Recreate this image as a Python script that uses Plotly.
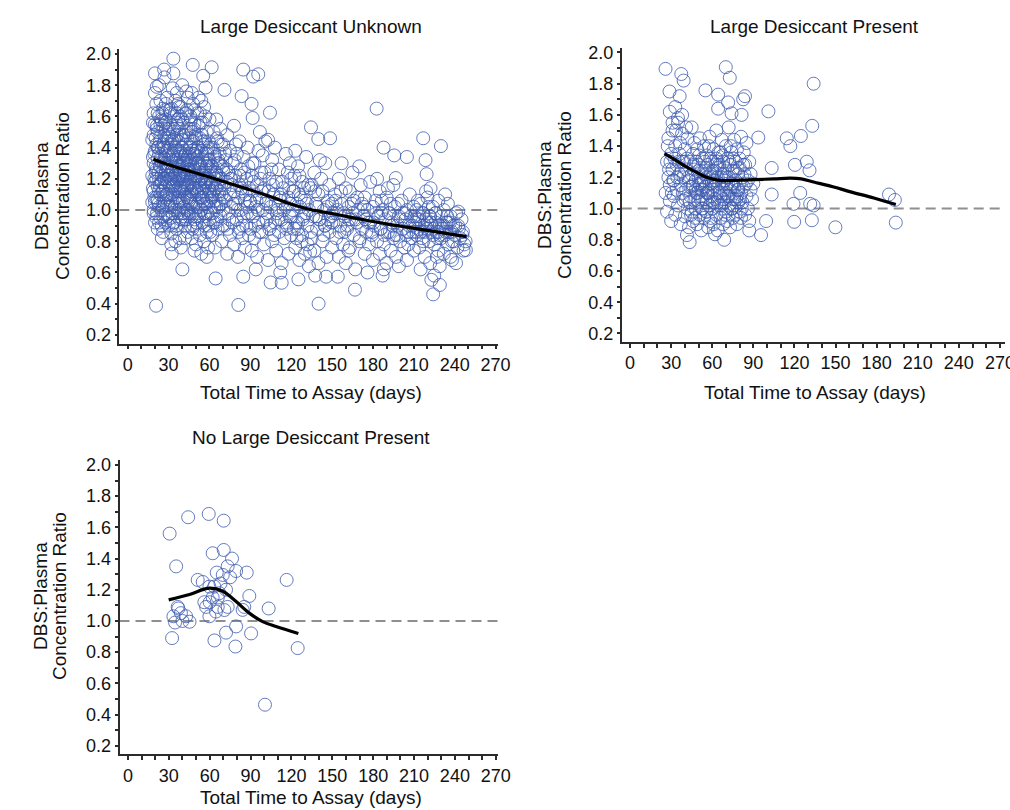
import plotly.graph_objects as go

# ---------------- Panel 1: Large Desiccant Unknown ----------------
unknown_days = [
    # 18-30 days
    18,18,18,19,19,19,19,20,20,20, 20,21,21,21,21,22,22,22,22,23, 23,23,23,24,24,24,24,24,25,25,
    25,25,26,26,26,26,27,27,27,27, 28,28,28,28,29,29,29,29,30,30, 30,30,20,23,27,25,21,28,26,22,
    # 31-45 days
    31,31,31,31,32,32,32,32,33,33, 33,33,34,34,34,34,35,35,35,35, 36,36,36,36,37,37,37,37,38,38,
    38,38,39,39,39,39,40,40,40,40, 41,41,41,41,42,42,42,42,43,43, 43,43,44,44,44,44,45,45,45,45,
    33,36,40,43,32,35,39,42,34,37, 41,44,31,38,36,40,45,33,39,42,
    # 46-60 days
    46,46,46,46,47,47,47,47,48,48, 48,48,49,49,49,49,50,50,50,50, 51,51,51,51,52,52,52,52,53,53,
    53,53,54,54,54,54,55,55,55,55, 56,56,56,56,57,57,57,57,58,58, 58,58,59,59,59,59,60,60,60,60,
    47,52,56,49,54,58,50,55,46,53,
    # 61-89 days
    61,61,61,62,62,62,63,63,63,64, 64,64,65,65,65,66,66,66,67,67, 68,68,68,69,69,70,70,70,71,71,
    72,72,73,73,73,74,74,75,75,75, 76,76,77,77,78,78,78,79,79,80, 80,81,81,82,82,82,83,83,84,84,
    85,85,86,86,87,87,88,88,89,89,
    # 90-120 days
    90,90,91,91,92,92,93,93,94,95, 95,96,96,97,98,98,99,100,100,101, 102,102,103,104,104,105,106,106,107,108,
    109,109,110,111,111,112,113,113,114,115, 116,116,117,118,118,119,120,120,97,103, 108,94,112,119,99,
    # 121-150 days
    121,122,122,123,124,125,125,126,127,128, 128,129,130,130,131,132,133,133,134,135,
    136,137,137,138,139,140,140,141,142,143, 144,145,145,146,147,148,148,149,150,150,
    126,131,135,139,143,147,124,132,141,123,
    # 151-180 days
    151,152,153,154,155,155,156,157,158,159, 160,160,161,162,163,164,165,166,166,167,
    168,169,170,171,172,173,174,174,175,176, 177,178,178,179,180,180,157,163,170,176,
    153,159,165,172,162,
    # 181-210 days
    181,182,183,184,185,185,186,187,188,189, 190,190,191,192,193,194,195,196,196,197,
    198,199,200,201,202,203,204,205,205,206, 207,208,208,209,210,210,183,188,193,199,
    186,191,202,206,195,
    # 211-250 days
    211,212,212,213,214,214,215,216,216,217, 218,218,219,220,220,221,222,222,223,224,
    224,225,226,226,227,228,228,229,230,230, 231,232,232,233,234,235,235,236,237,238,
    238,239,240,241,242,243,244,245,246,247, 215,219,225,229,233,237,241,213,221,227,
    # dense core 19-66 days
    24,25,26,27,28,29,30,31,32,33, 34,35,36,37,38,39,40,41,42,43, 44,45,46,47,48,49,50,51,52,53,
    54,55,56,57,58,59,60,62,64,66, 26,29,32,35,38,41,44,47,50,53, 56,59,28,31,34,37,40,43,46,49,
    22,23,24,25,21,20,19,23,26,28,
    # more 18-30 days
    18.5,19.5,20.5,21.5,22.5,23.5,24.5,25.5,26.5,27.5, 28.5,29.5,18.5,19.5,20.5,21.5,22.5,23.5,24.5,25.5,
    26.5,27.5,28.5,29.5,18.5,20.5,22.5,24.5,26.5,28.5, 19.5,21.5,23.5,25.5,27.5,29.5,19,22,25,28,
    # more 30-50 days
    30.5,31.5,32.5,33.5,34.5,35.5,36.5,37.5,38.5,39.5, 40.5,41.5,42.5,43.5,44.5,45.5,46.5,47.5,48.5,49.5,
    30.5,31.5,32.5,33.5,34.5,35.5,36.5,37.5,38.5,39.5, 40.5,41.5,42.5,43.5,44.5,45.5,46.5,47.5,48.5,49.5,
    30.5,31.5,32.5,33.5,34.5,35.5,36.5,37.5,38.5,39.5, 40.5,41.5,42.5,43.5,44.5,45.5,46.5,47.5,48.5,49.5,
    31,33,35,37,39,41,43,45,47,49,
    # more 50-70 days
    50.5,51.5,52.5,53.5,54.5,55.5,56.5,57.5,58.5,59.5, 60.5,61.5,62.5,63.5,64.5,65.5,66.5,67.5,68.5,69.5,
    50.5,51.5,52.5,53.5,54.5,55.5,56.5,57.5,58.5,59.5, 60.5,61.5,62.5,63.5,64.5,65.5,66.5,67.5,68.5,69.5,
    50.5,52.5,54.5,56.5,58.5,60.5,62.5,64.5,66.5,68.5, 51,53,55,57,59,61,63,65,67,69,
    # more 70-130 days
    70.5,72.5,74.5,76.5,78.5,80.5,82.5,84.5,86.5,88.5, 90.5,92.5,94.5,96.5,98.5,100.5,102.5,104.5,106.5,108.5,
    110.5,112.5,114.5,116.5,118.5,120.5,122.5,124.5,126.5,128.5, 71.5,73.5,75.5,77.5,79.5,81.5,83.5,85.5,87.5,89.5,
    91.5,93.5,95.5,97.5,99.5,101.5,103.5,105.5,107.5,109.5, 111.5,113.5,115.5,117.5,119.5,121.5,123.5,125.5,127.5,129.5,
    # more 130-248 days
    131.5,134.5,137.5,140.5,143.5,146.5,149.5,152.5,155.5,158.5, 161.5,164.5,167.5,170.5,173.5,176.5,179.5,182.5,185.5,188.5,
    191.5,194.5,197.5,200.5,203.5,206.5,209.5,212.5,215.5,218.5, 221.5,224.5,227.5,230.5,233.5,236.5,239.5,242.5,245.5,248,
    132.5,138.5,144.5,150.5,156.5,162.5,168.5,174.5,180.5,186.5, 192.5,198.5,204.5,210.5,216.5,222.5,228.5,234.5,240.5,246.5,
    212,214,217,220,223,226,229,232,235,238,
    # outliers
    33.5,47.7,61.6,20,33.5,21.3,26.7,84.8,92.1,95.8, 55.4,57.1,71,83.6,90.9,91.7,104.4,182.7,134.5,139.9,
    148.5,216.9,229.9,187.8,195.6,204.9,218.6,219.4,222.3,196.8, 32.3,40.1,64.5,84.8,104.9,113,125.3,133.9,137.6,145.6,
    154.2,166.8,187.1,224.2,229.1,222.9,248.2,242.6,20.8,81.2, 140.1,
]
unknown_ratio = [
    1.22,1.05,1.45,1.30,0.98,1.62,1.12,1.38,1.18,0.92, 1.55,1.26,1.08,1.68,1.42,1.15,1.33,0.88,1.50,1.20,
    1.02,1.60,1.36,1.28,1.10,1.47,0.95,1.70,1.18,1.40, 1.00,1.57,1.25,1.12,1.65,0.86,1.33,1.06,1.48,1.20,
    1.38,0.97,1.58,1.15,1.27,1.44,1.03,1.72,1.22,0.90, 1.52,1.35,1.75,1.80,1.85,0.82,0.95,1.25,1.42,1.62,
    1.10,1.30,0.95,1.55,1.20,1.42,0.85,1.65,1.15,1.05, 1.35,1.50,1.25,0.92,1.60,1.12,1.40,1.00,1.22,1.70,
    1.32,0.88,1.18,1.48,1.08,1.28,1.58,0.98,1.38,1.15, 0.82,1.52,1.24,1.05,1.66,1.34,1.12,1.45,0.94,1.28,
    1.02,1.38,1.56,1.18,1.30,0.90,1.10,1.62,1.22,1.42, 1.00,1.50,1.15,0.86,1.34,1.72,1.26,1.06,1.46,0.96,
    1.78,1.75,1.80,1.76,0.78,0.80,0.76,0.82,1.45,1.20, 1.25,1.08,1.40,1.00,1.62,1.20,1.36,0.98,1.48,1.35,
    1.20,1.40,0.90,1.60,1.10,1.32,0.82,1.50,1.25,1.02, 1.44,1.68,1.14,0.94,1.36,1.55,1.22,1.05,0.78,1.48,
    1.30,1.12,0.88,1.62,1.18,1.40,0.98,1.54,1.08,1.28, 0.84,1.46,1.20,1.00,1.38,1.70,1.14,0.92,1.32,1.56,
    1.24,1.04,0.80,1.44,1.16,1.36,0.96,1.60,1.10,1.28, 0.86,1.50,1.20,1.02,1.40,0.76,1.12,1.32,0.94,1.58,
    1.75,1.72,1.66,0.74,0.72,0.70,1.35,1.08,1.05,1.62,
    1.18,0.98,1.40,1.08,1.28,0.84,1.22,1.50,0.92,1.14, 1.34,0.76,1.02,1.24,1.58,1.16,0.88,1.44,1.06,1.30,
    0.96,1.20,1.52,1.10,0.80,1.26,1.00,1.42,1.14,0.90, 1.32,1.06,0.72,1.18,1.48,0.98,1.24,1.10,0.84,1.38,
    1.02,1.20,0.92,1.30,1.12,0.78,1.54,1.04,1.22,0.94, 1.36,1.08,0.70,1.16,0.88,1.44,1.00,1.26,0.82,1.12,
    0.96,1.34,1.06,0.76,1.20,0.90,1.02,1.40,1.14,0.84,
    1.05,0.88,1.22,0.74,1.12,0.96,1.30,0.82,1.02,1.16, 0.70,0.92,1.38,1.08,0.86,1.24,1.00,0.78,1.14,1.44,
    0.94,1.06,0.68,1.20,0.88,1.02,0.80,1.32,1.10,0.92, 0.74,1.18,1.00,0.86,1.26,1.06,0.66,0.94,1.14,0.82,
    1.02,1.36,0.90,1.08,0.72,0.96,1.20,0.84,1.50,1.45, 1.40,0.62,0.60,1.30,1.35,
    1.00,0.88,1.12,0.76,1.04,0.92,1.28,0.68,1.08,0.84, 1.18,0.96,0.72,1.06,1.34,0.90,1.00,0.64,1.14,0.82,
    0.96,1.24,0.74,1.04,0.88,1.10,0.66,0.94,1.20,0.80, 1.00,0.90,1.30,0.70,1.06,0.86,1.16,0.96,0.76,1.04,
    1.22,0.98,1.16,1.02,1.12,0.94,0.82,0.78,1.32,1.38,
    0.92,1.10,0.82,1.00,0.70,1.20,0.90,1.04,0.78,0.96, 1.14,0.66,0.88,1.02,0.76,0.94,1.24,0.84,1.06,0.62,
    0.92,1.00,0.80,1.16,0.88,0.96,0.72,1.08,0.86,1.00, 0.78,1.18,0.92,0.84,1.02,0.68,1.30,1.12,1.28,0.60,
    0.98,0.86,0.98,1.04,0.74,
    0.90,1.06,0.80,0.96,0.72,1.12,0.88,1.00,0.78,0.94, 1.08,0.66,0.86,0.98,0.74,0.92,1.16,0.84,1.02,0.70,
    0.90,0.96,0.80,1.06,0.88,0.76,0.94,1.00,0.68,0.86, 1.10,0.82,0.96,0.90,0.74,1.02,1.20,0.62,1.04,0.64,
    0.98,1.14,0.98,0.78,0.82,
    0.92,0.84,1.00,0.88,0.96,0.76,1.04,0.90,0.82,0.98, 0.86,0.70,0.94,1.08,0.88,0.80,0.96,0.66,0.90,1.02,
    0.84,0.78,0.92,0.98,0.86,0.74,1.06,0.90,0.82,0.96, 0.88,0.72,1.00,0.84,0.92,0.78,1.04,0.86,0.96,0.80,
    0.68,0.90,0.84,0.98,0.76,0.88,0.82,0.94,0.86,0.78, 0.62,1.12,0.58,0.64,1.10,0.70,0.66,1.06,1.02,0.70,
    1.32,1.22,1.05,1.40,1.30,1.18,1.46,1.20,1.32,1.24, 1.38,1.14,1.26,1.44,1.28,1.12,1.36,1.48,1.20,1.32,
    1.24,1.16,1.30,1.22,1.36,1.26,1.14,1.40,1.30,1.20, 1.28,1.44,1.12,1.26,1.38,1.30,1.22,1.16,1.24,1.30,
    0.96,1.10,1.02,1.08,1.06,0.98,1.00,0.98,0.96,1.02, 0.98,0.90,1.52,1.64,1.52,1.68,1.58,1.62,1.52,1.64,
    1.40,1.12,1.55,1.30,1.20,1.05,1.48,0.92,1.54,1.08,
    1.14,1.36,1.24,1.52,1.04,1.44,1.18,1.62,1.30,0.92, 1.46,1.22,1.34,1.08,1.28,0.98,1.40,1.16,1.58,1.02,
    1.20,1.64,1.10,0.96,1.56,1.46,1.24,1.34,1.40,1.28, 1.20,1.54,1.28,1.12,1.56,1.38,1.00,1.06,0.90,1.68,
    1.28,1.06,1.44,1.16,1.02,1.30,1.54,1.12,0.94,1.40, 1.22,0.96,1.36,1.08,1.52,1.18,1.04,1.38,1.14,1.46,
    1.48,1.62,0.90,1.36,1.46,1.56,1.04,1.34,1.22,1.16, 1.32,1.14,1.48,1.64,1.26,1.40,1.58,1.16,0.90,1.30,
    1.02,1.20,1.26,0.92,1.20,0.90,1.38,1.66,1.60,0.98, 1.06,1.24,0.94,1.16,0.98,1.08,1.26,0.88,1.52,1.04,
    1.16,1.10,1.32,1.22,1.14,1.30,1.14,1.32,1.12,1.20,
    1.10,1.34,0.96,1.24,1.48,1.06,1.30,1.18,0.98,1.44, 1.06,1.28,1.40,1.02,1.20,0.94,1.32,1.12,1.42,0.90,
    1.38,1.02,1.26,1.56,1.12,1.42,1.18,1.04,1.36,1.14, 1.26,1.08,0.98,1.36,1.06,1.46,1.22,1.36,1.04,1.28,
    0.92,1.14,1.08,0.90,1.20,0.86,1.18,0.92,1.02,1.16, 1.22,1.16,1.22,1.20,1.32,1.10,1.12,1.14,1.10,1.20,
    1.08,1.26,0.94,1.16,1.32,1.00,1.22,0.90,1.10,1.28, 0.98,1.18,1.06,0.86,1.12,1.24,0.98,0.90,1.16,1.04,
    0.94,1.10,1.00,0.88,1.14,0.96,1.22,0.88,1.02,0.94, 1.36,0.88,1.20,1.04,1.42,0.86,1.14,1.24,0.98,1.06,
    1.30,0.90,1.00,1.20,0.92,1.04,1.12,1.26,0.84,0.98, 1.08,1.18,0.92,1.24,1.04,1.12,0.92,1.10,0.80,1.14,
    1.04,0.86,1.12,0.94,0.84,1.02,0.92,1.06,0.86,0.98, 0.90,1.04,0.94,0.82,1.02,0.92,0.86,0.98,0.88,0.84,
    0.98,0.90,0.84,0.94,0.98,0.90,0.86,0.94,0.86,0.90, 0.96,0.88,0.82,0.90,0.86,0.92,0.80,0.90,0.84,0.80,
    1.16,0.96,0.90,0.98,1.12,0.94,1.08,0.94,0.92,1.06, 0.86,1.04,0.84,0.96,0.98,0.92,0.86,0.96,0.90,0.74,
    0.86,0.94,0.80,0.92,0.86,0.98,0.84,0.90,0.92,0.86,
    1.97,1.93,1.915,1.876,1.876,1.79,1.90,1.90,1.855,1.87, 1.86,1.785,1.77,1.73,1.68,1.59,1.624,1.65,1.53,1.455,
    1.46,1.46,1.41,1.40,1.35,1.34,1.32,1.23,1.14,1.205, 0.722,0.62,0.562,0.573,0.536,0.534,0.556,0.733,0.58,0.573,
    0.573,0.49,0.58,0.46,0.52,0.553,0.744,0.99,0.387,0.392, 0.40,
]
unknown_fit_days = [18.8, 30, 45, 60.4, 75, 89.7, 105, 119, 133, 148.4, 163, 177.8, 192, 207.1, 229, 248.7]
unknown_fit_ratio = [1.325, 1.29, 1.25, 1.21, 1.17, 1.13, 1.085, 1.04, 1.005, 0.98, 0.955, 0.93, 0.908, 0.887, 0.857, 0.83]

# ---------------- Panel 2: Large Desiccant Present ----------------
present_days = [
    26,27,27,28,28,29,29,30,30,31, 31,32,32,33,33,34,34,35,35,36, 36,37,37,38,38,39,39,40,40,41,
    41,42,42,43,43,44,44,45,45,45, 46,46,46,47,47,47,48,48,48,49, 49,49,50,50,50,51,51,51,52,52,
    52,53,53,53,54,54,54,55,55,55, 56,56,56,57,57,57,58,58,58,59, 59,59,60,60,60,61,61,61,62,62,
    62,63,63,63,64,64,64,65,65,65, 66,66,66,67,67,67,68,68,68,69, 69,69,70,70,70,71,71,71,72,72,
    72,73,73,73,74,74,74,75,75,75, 76,76,76,77,77,77,78,78,78,79, 79,79,80,80,80,81,81,81,82,82,
    83,83,84,84,85,85,86,86,87,87, 88,88,89,90,29,31,33,35,38,41,
    # core, second pass
    40.5,42.5,44.5,46.5,48.5,50.5,52.5,54.5,56.5,58.5, 60.5,62.5,64.5,66.5,68.5,70.5,72.5,74.5,76.5,78.5,
    80.5,82.5,84.5,41.5,43.5,45.5,47.5,49.5,51.5,53.5, 55.5,57.5,59.5,61.5,63.5,65.5,67.5,69.5,71.5,73.5,
    75.5,77.5,79.5,81.5,83.5,50.5,54.5,58.5,62.5,66.5, 70.5,74.5,78.5,52,56,60,64,68,72,76,
    28.5,30.5,32.5,34.5,36.5,38.5,27.5,29.5,31.5,33.5, 35.5,37.5,39.5,44,48,52,56,60,64,68,
    # outliers
    25.9,37.4,39.1,69.9,72.8,28.8,36.2,55,64.3,71.6, 83.9,82.6,64.3,74.1,81.4,101,134,133,124.7,114.4,
    117,93.6,103.4,120.4,129,131,103.4,124.2,119.3,131.5, 134,119.8,132.7,149.9,189,193.3,194,99.3,95.6,87,
    43.5,68.7,41.5,62,
]
present_ratio = [
    1.10,1.30,0.98,1.20,1.45,1.05,1.15,1.35,0.92,1.25, 1.50,1.08,1.18,1.40,0.96,1.28,1.12,1.55,1.02,1.22,
    1.35,0.90,1.15,1.30,1.48,1.05,1.20,0.95,1.38,1.12, 1.25,1.00,1.45,1.18,0.88,1.30,1.08,1.22,1.52,0.98,
    1.15,1.35,0.92,1.05,1.25,1.42,1.18,1.00,1.30,1.10, 0.90,1.38,1.20,1.05,1.28,0.96,1.15,1.45,1.08,1.24,
    0.86,1.32,1.12,1.00,1.18,0.94,1.40,1.06,1.26,1.14, 0.98,1.34,1.20,1.10,0.88,1.28,1.02,1.16,1.46,1.22,
    0.94,1.08,1.30,1.12,1.00,1.18,0.90,1.38,1.06,1.24, 1.14,0.96,1.32,1.50,1.10,1.20,0.86,1.02,1.28,1.16,
    1.36,0.94,1.08,1.22,1.00,1.44,1.12,0.90,1.30,1.18, 1.04,1.26,0.98,1.40,1.14,1.08,1.32,0.92,1.20,1.02,
    1.52,1.12,1.28,0.88,1.16,1.00,1.36,1.06,1.24,0.94, 1.14,1.44,1.02,1.30,0.96,1.18,1.08,1.38,0.90,1.22,
    1.04,1.12,1.32,0.98,1.26,1.10,1.46,0.94,1.20,1.04, 1.36,1.14,0.96,1.28,1.08,1.42,1.18,1.00,1.30,0.92,
    1.12,1.22,1.06,1.16,1.62,1.55,1.65,1.58,1.60,1.52,
    1.06,1.20,0.96,1.28,1.10,1.34,1.00,1.22,1.10,1.32, 1.04,1.18,1.36,1.02,1.22,1.10,1.30,1.00,1.24,1.12,
    1.06,1.28,1.16,1.32,1.04,1.14,0.94,1.24,1.06,1.18, 0.98,1.40,1.16,1.04,1.26,1.10,1.34,0.96,1.16,1.40,
    1.32,1.06,1.16,1.00,1.22,1.16,1.30,0.92,1.28,1.20, 1.20,1.14,1.26,1.12,1.04,1.24,1.04,1.16,1.08,1.06,
    1.25,1.10,1.32,1.20,1.42,1.10,1.40,1.30,1.18,1.50, 1.30,1.24,1.30,1.14,1.12,1.16,1.10,1.20,1.30,1.06,
    1.895,1.862,1.82,1.906,1.838,1.75,1.72,1.757,1.73,1.68, 1.72,1.70,1.64,1.61,1.60,1.623,1.80,1.53,1.465,1.45,
    1.40,1.455,1.26,1.28,1.30,1.245,1.09,1.10,1.03,1.03, 1.02,0.915,0.925,0.88,1.09,1.055,0.91,0.92,0.83,0.86,
    0.785,0.80,0.83,0.835,
]
present_fit_days = [25.2, 35, 41.1, 50, 55.8, 65.5, 80, 90, 105, 117, 125, 134, 148, 161, 178, 194]
present_fit_ratio = [1.352, 1.30, 1.267, 1.225, 1.20, 1.18, 1.182, 1.185, 1.19, 1.195, 1.19, 1.17, 1.14, 1.107, 1.068, 1.026]

# ---------------- Panel 3: No Large Desiccant Present ----------------
absent_days = [
    30.6,44.2,59.3,70.3,35.4,62.2,70.3,76.4,73.2,79.4, 87.2,69.6,65.2,116.5,51.2,54.9,59.8,63.4,67.1,89.1,
    103.3,36.5,38.9,42.7,45.2,33.4,34.6,57.4,59.8,64.6, 65.9,70.8,73.2,84.2,85.4,32.4,63.5,72,79.4,78.9,
    90.4,124.6,100.6,62.2,56.1,68,72,75,60,66,40,37,
]
absent_ratio = [
    1.56,1.665,1.686,1.643,1.35,1.434,1.455,1.40,1.35,1.32, 1.31,1.295,1.31,1.263,1.263,1.25,1.22,1.22,1.178,1.16,
    1.08,1.09,1.05,1.03,0.995,1.03,0.99,1.09,1.03,1.06, 1.09,1.07,1.09,1.071,1.09,0.89,0.875,0.925,0.965,0.836,
    0.92,0.826,0.463,1.15,1.12,1.24,1.20,1.28,1.12,1.15,1.00,1.08,
]
absent_fit_days = [29.9, 45.2, 59.8, 69.6, 79.4, 89.1, 98.9, 108.7, 125.1]
absent_fit_ratio = [1.135, 1.17, 1.21, 1.19, 1.124, 1.05, 0.996, 0.965, 0.92]

panel_titles = ["Large Desiccant Unknown", "Large Desiccant Present", "No Large Desiccant Present"]
x_title = "Total Time to Assay (days)"
y_title_lines = ["DBS:Plasma", "Concentration Ratio"]
reference_ratio = 1.0

# ---------------- styling / layout ----------------
W, H = 1010, 810
FONT = "Liberation Sans, Arial, sans-serif"
MARKER_COLOR = "rgba(62,92,176,0.8)"
AXIS_COLOR = "#2b2b2b"
TEXT_COLOR = "#111111"

def xdom(l, r):
    return [l / W, r / W]

def ydom(top, bottom):
    return [1 - bottom / H, 1 - top / H]

panels = [
    dict(days=unknown_days, ratio=unknown_ratio, fd=unknown_fit_days, fr=unknown_fit_ratio,
         xd=xdom(119.3, 498.0), yd=ydom(49.3, 343.5), xr=[-6.2, 271.8],
         title=(311, 27), xt=(311, 392), yt=(41, 62, 196)),
    dict(days=present_days, ratio=present_ratio, fd=present_fit_days, fr=present_fit_ratio,
         xd=xdom(621.7, 1005.0), yd=ydom(47.8, 342.0), xr=[-6.1, 273.7],
         title=(814, 27), xt=(815, 392), yt=(545, 565, 195)),
    dict(days=absent_days, ratio=absent_ratio, fd=absent_fit_days, fr=absent_fit_ratio,
         xd=xdom(119.5, 498.2), yd=ydom(460.3, 754.3), xr=[-6.2, 271.8],
         title=(311, 437), xt=(311, 797), yt=(40, 59, 596)),
]

fig = go.Figure()
annotations = []
shapes = []
layout_axes = {}

for i, p in enumerate(panels, start=1):
    xa = "x" if i == 1 else f"x{i}"
    ya = "y" if i == 1 else f"y{i}"
    n = min(len(p["days"]), len(p["ratio"]))
    fig.add_trace(go.Scatter(
        x=p["days"][:n], y=p["ratio"][:n], mode="markers", xaxis=xa, yaxis=ya,
        marker=dict(symbol="circle-open", size=13, color=MARKER_COLOR,
                    line=dict(width=1.0, color=MARKER_COLOR)),
        hoverinfo="skip", showlegend=False,
    ))
    fig.add_trace(go.Scatter(
        x=p["fd"], y=p["fr"], mode="lines", xaxis=xa, yaxis=ya,
        line=dict(color="black", width=3.2, shape="spline", smoothing=1.0),
        hoverinfo="skip", showlegend=False,
    ))
    shapes.append(dict(type="line", xref=f"{xa} domain", yref=ya, x0=0, x1=1,
                       y0=reference_ratio, y1=reference_ratio,
                       line=dict(color="#8f8f8f", width=2, dash="10px,6px"), layer="below"))

    axkey = "xaxis" if i == 1 else f"xaxis{i}"
    aykey = "yaxis" if i == 1 else f"yaxis{i}"
    layout_axes[axkey] = dict(
        domain=p["xd"], anchor=ya, range=p["xr"], tick0=0, dtick=30,
        showgrid=False, zeroline=False, showline=True, linecolor=AXIS_COLOR, linewidth=1.5,
        ticks="outside", ticklen=4, tickwidth=1.5, tickcolor=AXIS_COLOR,
        ticklabeloverflow="allow",
        minor=dict(dtick=10, tick0=0, ticks="outside", ticklen=4, tickwidth=1.5, tickcolor=AXIS_COLOR),
        tickfont=dict(family=FONT, size=18, color=TEXT_COLOR),
    )
    layout_axes[aykey] = dict(
        domain=p["yd"], anchor=xa, range=[0.145, 2.03], tick0=0.2, dtick=0.2, tickformat=".1f",
        showgrid=False, zeroline=False, showline=True, linecolor=AXIS_COLOR, linewidth=1.5,
        ticks="outside", ticklen=3, tickwidth=1.5, tickcolor=AXIS_COLOR,
        minor=dict(dtick=0.1, tick0=0.2, ticks="outside", ticklen=3, tickwidth=1.5, tickcolor=AXIS_COLOR),
        tickfont=dict(family=FONT, size=18, color=TEXT_COLOR),
    )

    tx, ty = p["title"]
    annotations.append(dict(text=panel_titles[i - 1], x=tx / W, y=1 - ty / H, xref="paper", yref="paper",
                            xanchor="center", yanchor="middle", showarrow=False,
                            font=dict(family=FONT, size=19, color=TEXT_COLOR)))
    xx, xy = p["xt"]
    annotations.append(dict(text=x_title, x=xx / W, y=1 - xy / H, xref="paper", yref="paper",
                            xanchor="center", yanchor="middle", showarrow=False,
                            font=dict(family=FONT, size=19, color=TEXT_COLOR)))
    l1, l2, yc = p["yt"]
    for lx, txt in ((l1, y_title_lines[0]), (l2, y_title_lines[1])):
        annotations.append(dict(text=txt, x=lx / W, y=1 - yc / H, xref="paper", yref="paper",
                                xanchor="center", yanchor="middle", textangle=-90, showarrow=False,
                                font=dict(family=FONT, size=19, color=TEXT_COLOR)))

fig.update_layout(
    autosize=True, margin=dict(l=0, r=0, t=0, b=0, autoexpand=False),
    paper_bgcolor="white", plot_bgcolor="white",
    showlegend=False, hovermode=False,
    annotations=annotations, shapes=shapes,
    **layout_axes,
)

fig.write_html(
    "out.html",
    config={"displayModeBar": False, "responsive": True},
    default_width="100vw", default_height="100vh",
    post_script=(
        "document.documentElement.style.margin='0px';"
        "document.body.style.margin='0px';"
        "document.body.style.overflow='hidden';"
        "var gd=document.getElementById('{plot_id}');"
        "Plotly.Plots.resize(gd);"
    ),
)
